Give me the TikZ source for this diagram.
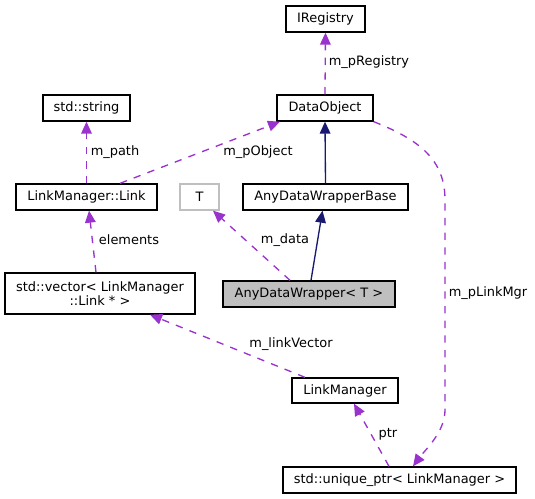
\documentclass[tikz,border=0pt]{standalone}
\usepackage{fontspec}
\setmainfont{DejaVu Sans}
\usetikzlibrary{arrows.meta,calc}
\definecolor{edgepurple}{HTML}{9A32CD}
\definecolor{inhnavy}{HTML}{191970}
\definecolor{boxgray}{HTML}{BFBFBF}
\begin{document}
\begin{tikzpicture}[x=0.75pt,y=-0.75pt,
  box/.style={draw=black,line width=1pt,inner sep=0pt,minimum height=26*0.75pt,
    font=\fontsize{9.7pt}{10.7pt}\selectfont,align=center},
  lbl/.style={inner sep=0pt,font=\fontsize{9.7pt}{10.7pt}\selectfont},
  uses/.style={draw=edgepurple,line width=1pt,dash pattern=on 5.5pt off 5.5pt,
    -{Triangle[length=9pt,width=8pt,fill=edgepurple]}},
  inh/.style={draw=inhnavy,line width=1pt,
    -{Triangle[length=9pt,width=8pt,fill=inhnavy]}}]
\useasboundingbox (0,0) rectangle (535,499);

% nodes
\node[box,minimum width=79*0.75pt] (ireg) at (325.5,19) {IRegistry};
\node[box,minimum width=96*0.75pt] (do) at (325,108) {DataObject};
\node[box,minimum width=87*0.75pt] (str) at (86.5,108) {std::string};
\node[box,minimum width=141*0.75pt] (link) at (86.5,197) {LinkManager::Link};
\node[box,draw=boxgray,minimum width=39*0.75pt] (t) at (199.5,197) {T};
\node[box,minimum width=165*0.75pt] (adwb) at (325.5,197) {AnyDataWrapperBase};
\node[box,minimum width=190*0.75pt,minimum height=41*0.75pt] (vec) at (100,293.5) {std::vector< LinkManager\\::Link * >};
\node[box,fill=boxgray,minimum width=172*0.75pt] (adw) at (309,294) {AnyDataWrapper< T >};
\node[box,minimum width=106*0.75pt,minimum height=25*0.75pt] (lm) at (345,390.5) {LinkManager};
\node[box,minimum width=233*0.75pt] (uptr) at (399.5,480) {std::unique\_ptr< LinkManager >};

% connectors
\draw[uses] (do.north) -- (ireg.south);
\draw[uses] (link.north) -- (str.south);
\draw[uses] ($(link.north)+(33.5,0)$) -- ($(do.south)+(-45,0)$);
\draw[inh] (adwb.north) -- (do.south);
\draw[inh] ($(adw.north)+(2,0)$) -- ($(adwb.south)+(-3,0)$);
\draw[uses] ($(adw.north)+(-19,0)$) -- ($(t.south)+(13.5,0)$);
\draw[uses] ($(vec.north)+(-4,0)$) -- ($(link.south)+(2.5,0)$);
\draw[uses] ($(lm.north)+(-40,0)$) -- ($(vec.south)+(50,0)$);
\draw[uses] ($(uptr.north)+(-10.5,0)$) -- ($(lm.south)+(9,0)$);
\draw[uses] (do.south east) .. controls (420,140) and (445,160) .. (445,200)
  -- (445,410) .. controls (445,432) and (425,450) .. ($(uptr.north)+(13.5,0)$);

% labels
\node[lbl] (l1) at (369,62) {m\_pRegistry};
\node[lbl] (l2) at (115,152) {m\_path};
\node[lbl] (l3) at (258,152) {m\_pObject};
\node[lbl] (l4) at (129,240) {elements};
\node[lbl] (l5) at (285,240) {m\_data};
\node[lbl] (l6) at (291,344) {m\_linkVector};
\node[lbl] (l7) at (388,434) {ptr};
\node[lbl] (l8) at (488,293) {m\_pLinkMgr};
\end{tikzpicture}
\end{document}
